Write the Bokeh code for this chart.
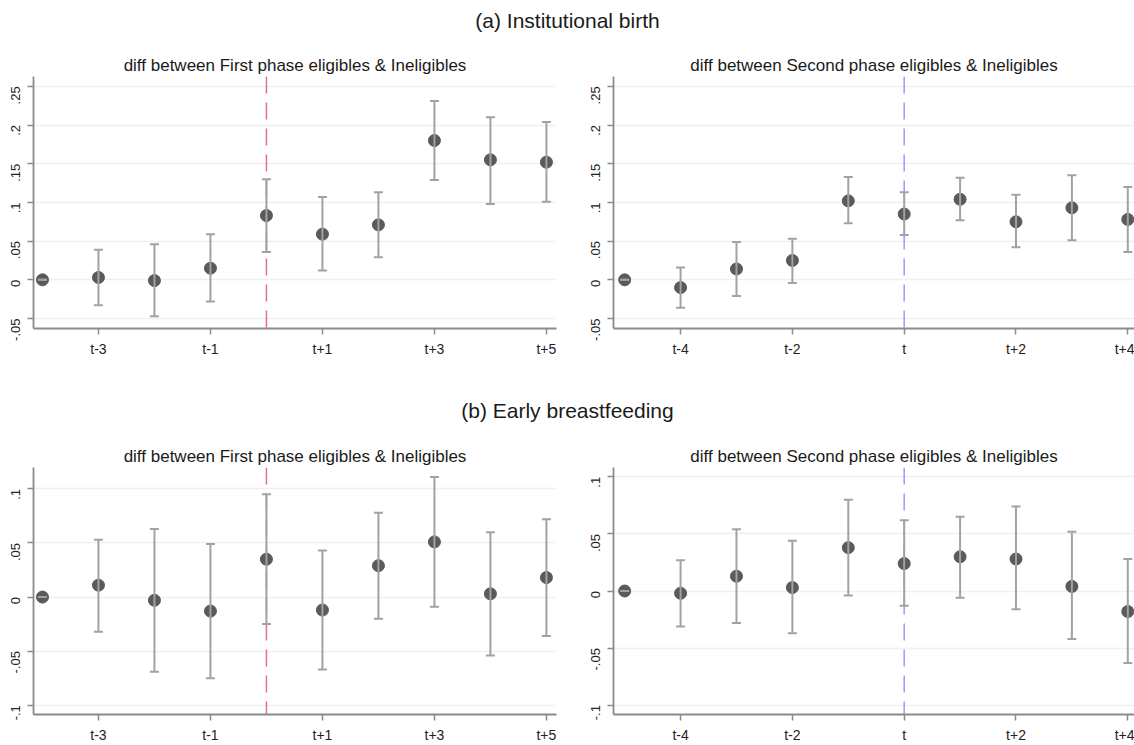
import math

from bokeh.embed import file_html
from bokeh.layouts import column, row
from bokeh.models import (ColumnDataSource, FixedTicker, Label, Range1d, Span,
                          TeeHead, Whisker)
from bokeh.plotting import figure
from bokeh.resources import INLINE

# ---------------------------------------------------------------------------
# Event-study estimates (coefficient, lower and upper bound of the 95% CI)
# ---------------------------------------------------------------------------
first_periods = [-4, -3, -2, -1, 0, 1, 2, 3, 4, 5]     # t-4 ... t+5
second_periods = [-5, -4, -3, -2, -1, 0, 1, 2, 3, 4]   # t-5 ... t+4

first_xticks = [-3, -1, 1, 3, 5]
first_xlabels = ["t-3", "t-1", "t+1", "t+3", "t+5"]
second_xticks = [-4, -2, 0, 2, 4]
second_xlabels = ["t-4", "t-2", "t", "t+2", "t+4"]

# (a) Institutional birth
inst_yticks = [-0.05, 0.0, 0.05, 0.1, 0.15, 0.2, 0.25]
inst_ylabels = ["-.05", "0", ".05", ".1", ".15", ".2", ".25"]

inst_first_coef = [0.0, 0.003, -0.001, 0.015, 0.083, 0.059, 0.071, 0.180, 0.155, 0.152]
inst_first_lo = [0.0, -0.033, -0.047, -0.028, 0.036, 0.012, 0.029, 0.129, 0.098, 0.101]
inst_first_hi = [0.0, 0.039, 0.046, 0.059, 0.130, 0.107, 0.113, 0.231, 0.210, 0.204]

inst_second_coef = [0.0, -0.010, 0.014, 0.025, 0.102, 0.085, 0.104, 0.075, 0.093, 0.078]
inst_second_lo = [0.0, -0.036, -0.021, -0.004, 0.073, 0.058, 0.077, 0.042, 0.051, 0.036]
inst_second_hi = [0.0, 0.016, 0.049, 0.053, 0.133, 0.113, 0.132, 0.110, 0.135, 0.120]

# (b) Early breastfeeding
bf_yticks = [-0.1, -0.05, 0.0, 0.05, 0.1]
bf_ylabels = ["-.1", "-.05", "0", ".05", ".1"]

bf_first_coef = [0.0, 0.011, -0.003, -0.013, 0.035, -0.012, 0.029, 0.051, 0.003, 0.018]
bf_first_lo = [0.0, -0.032, -0.069, -0.075, -0.025, -0.067, -0.020, -0.009, -0.054, -0.036]
bf_first_hi = [0.0, 0.053, 0.063, 0.049, 0.095, 0.043, 0.078, 0.111, 0.060, 0.072]

bf_second_coef = [0.0, -0.002, 0.013, 0.003, 0.038, 0.024, 0.030, 0.028, 0.004, -0.018]
bf_second_lo = [0.0, -0.031, -0.028, -0.037, -0.004, -0.013, -0.006, -0.016, -0.042, -0.063]
bf_second_hi = [0.0, 0.027, 0.054, 0.044, 0.080, 0.062, 0.065, 0.074, 0.052, 0.028]

FONT = "Liberation Sans"
AXIS_GREY = "#8a8a8a"
BAR_GREY = "#a2a2a2"
DOT_GREY = "#5a5a5a"
FIRST_LINE = "#e0708e"
SECOND_LINE = "#9a9aff"


def header(text, height):
    h = figure(width=1134, height=height, output_backend="svg", toolbar_location=None,
               x_range=Range1d(0, 1), y_range=Range1d(0, 1), min_border=0)
    h.axis.visible = False
    h.grid.visible = False
    h.outline_line_color = None
    h.add_layout(Label(x=0.5, y=0.5, text=text, text_align="center",
                       text_baseline="middle", text_font=FONT,
                       text_font_size="21px", text_color="#1a1a1a"))
    return h


def panel(title, periods, coef, lo, hi, xticks, xlabels, yticks, ylabels,
          xr, yr, line_color, width, height, borders):
    left, right, top, bottom = borders
    p = figure(width=width, height=height, output_backend="svg", toolbar_location=None,
               x_range=Range1d(*xr), y_range=Range1d(*yr),
               min_border_left=left, min_border_right=right,
               min_border_top=top, min_border_bottom=bottom)
    p.outline_line_color = None
    p.background_fill_color = "white"

    p.title.text = title
    p.title.align = "center"
    p.title.text_font = FONT
    p.title.text_font_size = "17px"
    p.title.text_font_style = "normal"
    p.title.text_color = "#1a1a1a"
    p.title.standoff = 3

    # treatment year marker
    p.add_layout(Span(location=0, dimension="height", line_color=line_color,
                      line_width=1.5, line_dash="17 9", level="underlay"))

    src = ColumnDataSource(dict(x=periods, coef=coef, lo=lo, hi=hi))
    p.scatter("x", "coef", source=src, size=12, fill_color=DOT_GREY,
              line_color=DOT_GREY)
    w = Whisker(base="x", lower="lo", upper="hi", source=src,
                line_color=BAR_GREY, line_width=2,
                lower_head=TeeHead(size=9, line_color=BAR_GREY, line_width=2),
                upper_head=TeeHead(size=9, line_color=BAR_GREY, line_width=2))
    w.level = "annotation"
    p.add_layout(w)

    p.xaxis.ticker = FixedTicker(ticks=xticks)
    p.xaxis.major_label_overrides = dict(zip(xticks, xlabels))
    p.yaxis.ticker = FixedTicker(ticks=yticks)
    p.yaxis.major_label_overrides = dict(zip(yticks, ylabels))
    p.yaxis.major_label_orientation = math.pi / 2

    for ax in (p.xaxis[0], p.yaxis[0]):
        ax.axis_line_color = AXIS_GREY
        ax.axis_line_width = 1.8
        ax.major_tick_line_color = AXIS_GREY
        ax.major_tick_line_width = 1.5
        ax.major_tick_out = 6
        ax.major_tick_in = 0
        ax.minor_tick_line_color = None
        ax.major_label_text_font = FONT
        ax.major_label_text_color = "#222222"
    p.xaxis.major_label_text_font_size = "14px"
    p.yaxis.major_label_text_font_size = "13px"
    p.xaxis.major_label_standoff = 6
    p.yaxis.major_label_standoff = 12

    p.xgrid.visible = False
    p.ygrid.ticker = FixedTicker(ticks=yticks)
    p.ygrid.grid_line_color = "#f0f0f0"
    p.ygrid.grid_line_width = 1.5
    return p


TITLE_FIRST = "diff between First phase eligibles & Ineligibles"
TITLE_SECOND = "diff between Second phase eligibles & Ineligibles"

p1 = panel(TITLE_FIRST, first_periods, inst_first_coef, inst_first_lo, inst_first_hi,
           first_xticks, first_xlabels, inst_yticks, inst_ylabels,
           (-4.16, 5.18), (-0.0629, 0.2627), FIRST_LINE, 567, 350, (33, 11, 36, 62))
p2 = panel(TITLE_SECOND, second_periods, inst_second_coef, inst_second_lo, inst_second_hi,
           second_xticks, second_xlabels, inst_yticks, inst_ylabels,
           (-5.2, 4.12), (-0.0629, 0.2627), SECOND_LINE, 567, 350, (46, 0, 36, 62))
p3 = panel(TITLE_FIRST, first_periods, bf_first_coef, bf_first_lo, bf_first_hi,
           first_xticks, first_xlabels, bf_yticks, bf_ylabels,
           (-4.16, 5.18), (-0.1086, 0.1198), FIRST_LINE, 567, 315, (33, 11, 37, 26))
p4 = panel(TITLE_SECOND, second_periods, bf_second_coef, bf_second_lo, bf_second_hi,
           second_xticks, second_xlabels, bf_yticks, bf_ylabels,
           (-5.2, 4.12), (-0.1082, 0.1082), SECOND_LINE, 567, 315, (46, 0, 37, 26))

layout = column(
    header("(a) Institutional birth", 40),
    row(p1, p2),
    header("(b) Early breastfeeding", 40),
    row(p3, p4),
)

open("out.html", "w").write(file_html(layout, INLINE))
